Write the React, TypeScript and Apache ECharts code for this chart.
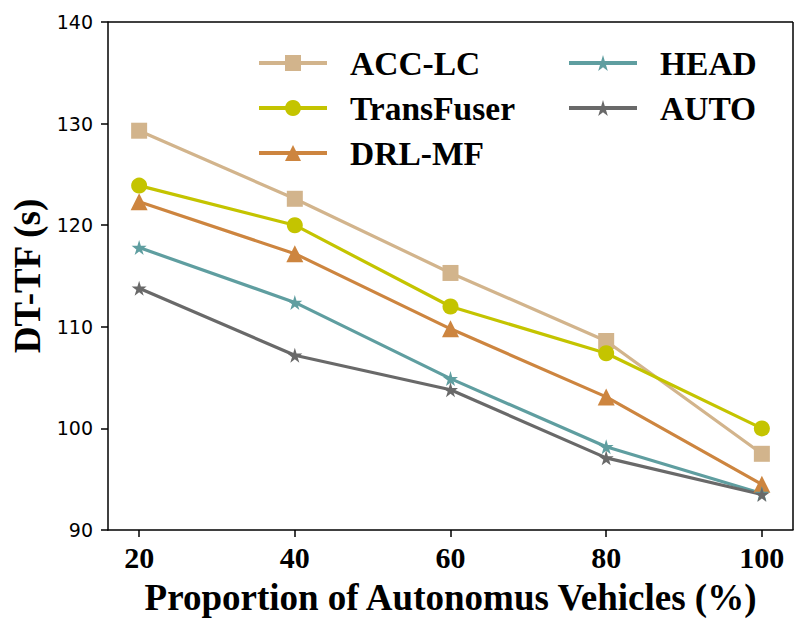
import React, { useEffect, useRef } from "react";
import * as echarts from "echarts";

const xValues = [20, 40, 60, 80, 100];
const accLc = [129.3, 122.6, 115.3, 108.6, 97.5];
const transFuser = [123.9, 120.0, 112.0, 107.4, 100.0];
const drlMf = [122.3, 117.2, 109.8, 103.1, 94.5];
const head = [117.8, 112.4, 104.9, 98.2, 93.6];
const auto = [113.8, 107.2, 103.8, 97.1, 93.5];

const star = "path://M50,0 L61,35 L98,35 L68,57 L79,91 L50,70 L21,91 L32,57 L2,35 L39,35 Z";
const seriesDefs = [
  { name: "ACC-LC", data: accLc, color: "#D2B48C", symbol: "rect", size: 16 },
  { name: "TransFuser", data: transFuser, color: "#C4C400", symbol: "circle", size: 16 },
  { name: "DRL-MF", data: drlMf, color: "#CD853F", symbol: "triangle", size: 17 },
  { name: "HEAD", data: head, color: "#5F9EA0", symbol: star, size: 15 },
  { name: "AUTO", data: auto, color: "#696969", symbol: star, size: 15 },
];

export default function App() {
  const ref = useRef<HTMLDivElement>(null);
  useEffect(() => {
    const chart = echarts.init(ref.current!, null, { renderer: "svg" });
    const legendText = {
      fontFamily: "Liberation Serif", fontWeight: "bold", fontSize: 33.5, color: "#000",
      padding: [0, 0, 0, 18],
    };
    const legendCommon = {
      orient: "vertical", top: 41, itemWidth: 68, itemHeight: 20, itemGap: 11,
      textStyle: legendText, lineStyle: { width: 4 },
    };
    chart.setOption({
      animation: false,
      backgroundColor: "#fff",
      grid: { left: 108, right: 13, top: 22, bottom: 100 },
      legend: [
        { ...legendCommon, data: ["ACC-LC", "TransFuser", "DRL-MF"], left: 252 },
        { ...legendCommon, data: ["HEAD", "AUTO"], left: 562 },
      ],
      xAxis: {
        type: "value", min: 16, max: 104,
        name: "Proportion of Autonomus Vehicles (%)", nameLocation: "middle", nameGap: 49,
        nameTextStyle: { fontFamily: "Liberation Serif", fontWeight: "bold", fontSize: 37, color: "#000" },
        axisLine: { show: true, lineStyle: { color: "#000", width: 1.5 } },
        axisTick: { show: true, customValues: xValues, length: 7, lineStyle: { color: "#000", width: 1.5 } },
        axisLabel: { customValues: xValues, margin: 12, fontFamily: "Liberation Serif", fontWeight: "bold", fontSize: 30, color: "#000" },
        splitLine: { show: false },
      },
      yAxis: {
        type: "value", min: 90, max: 140, interval: 10,
        name: "DT-TF (s)", nameLocation: "middle", nameGap: 58,
        nameTextStyle: { fontFamily: "Liberation Serif", fontWeight: "bold", fontSize: 37, color: "#000" },
        axisLine: { show: true, lineStyle: { color: "#000", width: 1.5 } },
        axisTick: { show: true, length: 7, lineStyle: { color: "#000", width: 1.5 } },
        axisLabel: { margin: 15, fontFamily: "DejaVu Sans", fontSize: 19, color: "#000" },
        splitLine: { show: false },
      },
      graphic: [
        { type: "line", shape: { x1: 108, y1: 22, x2: 793, y2: 22 }, style: { stroke: "#000", lineWidth: 1.5 } },
        { type: "line", shape: { x1: 793, y1: 22, x2: 793, y2: 530 }, style: { stroke: "#000", lineWidth: 1.5 } },
      ],
      series: seriesDefs.map((s) => ({
        name: s.name,
        type: "line",
        data: s.data.map((v, i) => [xValues[i], v]),
        symbol: s.symbol,
        symbolSize: s.size,
        showAllSymbol: true,
        itemStyle: { color: s.color },
        lineStyle: { color: s.color, width: 3.2 },
      })),
    });
    return () => chart.dispose();
  }, []);
  return <div ref={ref} style={{ position: "absolute", left: 0, top: 0, width: 806, height: 630 }} />;
}
